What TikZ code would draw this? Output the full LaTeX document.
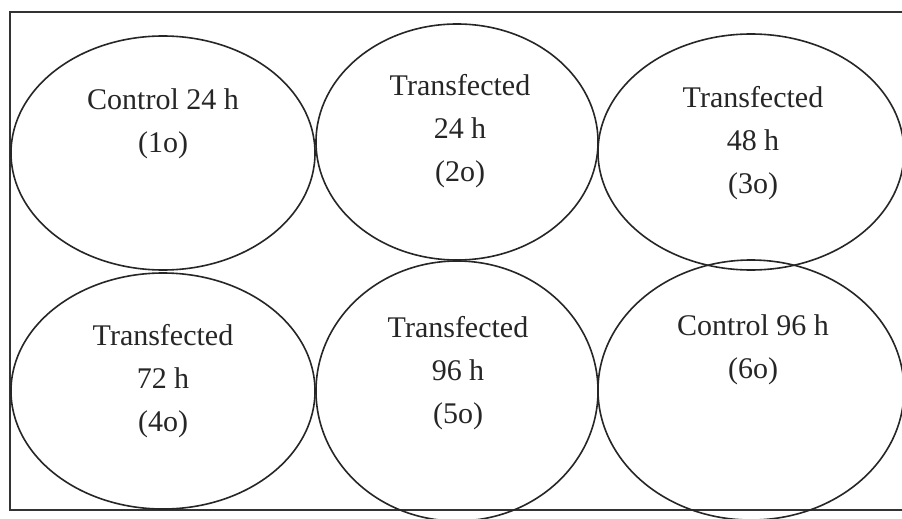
\documentclass[tikz,border=0pt]{standalone}
\usepackage{fontspec}
\setmainfont{Liberation Serif}
\usetikzlibrary{shapes.geometric}
\tikzset{
  well/.style={ellipse, draw=black!85, line width=1.6pt, inner sep=0pt, outer sep=0pt},
  welltext/.style={align=center, inner sep=0pt, font=\fontsize{30}{43}\selectfont, text=black!85},
  frameline/.style={line width=1.8pt, draw=black!80}
}
\begin{document}
\begin{tikzpicture}[x=1pt,y=-1pt]
\useasboundingbox (0,0) rectangle (902,519);
\clip (0,0) rectangle (902,519);
\fill[white] (0,0) rectangle (902,519);
% frame (open on the right)
\draw[frameline] (902,12) -- (10,12) -- (10,510) -- (902,510);
% wells
\node[well, minimum width=304pt, minimum height=234pt] (e1) at (163,153) {};
\node[well, minimum width=282pt, minimum height=236pt] (e2) at (457,142) {};
\node[well, minimum width=306pt, minimum height=236pt] (e3) at (751,152) {};
\node[well, minimum width=304pt, minimum height=236pt] (e4) at (163,391) {};
\node[well, minimum width=282pt, minimum height=260pt] (e5) at (457,391) {};
\node[well, minimum width=306pt, minimum height=260pt] (e6) at (751,390) {};
% labels
\node[welltext] (t1) at (163,124) {Control 24 h\\(1o)};
\node[welltext] (t2) at (460,131) {Transfected\\24 h\\(2o)};
\node[welltext] (t3) at (753,143) {Transfected\\48 h\\(3o)};
\node[welltext] (t4) at (163,381) {Transfected\\72 h\\(4o)};
\node[welltext] (t5) at (458,373) {Transfected\\96 h\\(5o)};
\node[welltext] (t6) at (753,350) {Control 96 h\\(6o)};
\end{tikzpicture}
\end{document}
